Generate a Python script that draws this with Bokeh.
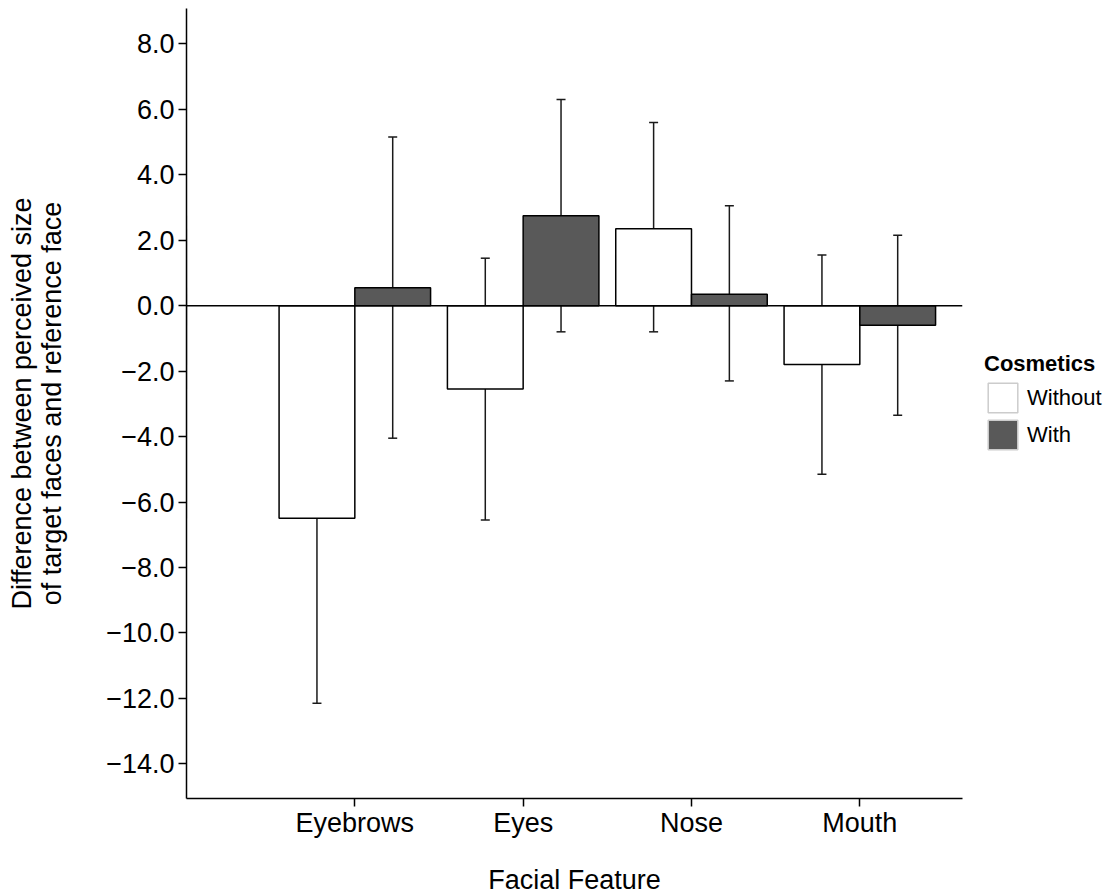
from bokeh.plotting import figure
from bokeh.models import (ColumnDataSource, Whisker, TeeHead, Legend, LegendItem,
                          FixedTicker, Span, Range1d)
from bokeh.embed import file_html
from bokeh.resources import INLINE

# ---- data ----
features = ["Eyebrows", "Eyes", "Nose", "Mouth"]
groups = ["Without", "With"]
without_mean = [-6.5, -2.55, 2.35, -1.8]
without_upper = [-0.8, 1.45, 5.6, 1.55]
without_lower = [-12.15, -6.55, -0.8, -5.15]
with_mean = [0.55, 2.75, 0.35, -0.6]
with_upper = [5.15, 6.3, 3.05, 2.15]
with_lower = [-4.05, -0.8, -2.3, -3.35]
y_ticks = [-14, -12, -10, -8, -6, -4, -2, 0, 2, 4, 6, 8]
y_tick_labels = ["\u221214.0", "\u221212.0", "\u221210.0", "\u22128.0", "\u22126.0",
                 "\u22124.0", "\u22122.0", "0.0", "2.0", "4.0", "6.0", "8.0"]
x_positions = [1, 2, 3, 4]

FONT = "Liberation Sans"
DARK = "#595959"
dodge = 0.225
bar_w = 0.45

p = figure(width=1105, height=888, output_backend="svg", toolbar_location=None,
           x_range=Range1d(0, 4.61), y_range=Range1d(-15.06, 9.08),
           min_border_left=186, min_border_right=143, min_border_top=8,
           min_border_bottom=90)
p.frame_width = 776
p.frame_height = 790
p.grid.visible = False
p.outline_line_color = None
p.background_fill_color = "white"
# off-screen range used only so legend keys can have their own outline colour
p.extra_x_ranges = {"legend_only": Range1d(1000, 1001)}

src_wo = ColumnDataSource(dict(
    x=[x - dodge for x in x_positions], top=without_mean,
    upper=without_upper, lower=without_lower))
src_w = ColumnDataSource(dict(
    x=[x + dodge for x in x_positions], top=with_mean,
    upper=with_upper, lower=with_lower))

p.vbar(x="x", top="top", bottom=0, width=bar_w, source=src_wo,
       fill_color="white", line_color="black", line_width=1.5)
p.vbar(x="x", top="top", bottom=0, width=bar_w, source=src_w,
       fill_color=DARK, line_color="black", line_width=1.5)

p.add_layout(Span(location=0, dimension="width", line_color="black", line_width=1.5))

for src in (src_wo, src_w):
    wk = Whisker(base="x", upper="upper", lower="lower", source=src,
                 line_color="#1a1a1a", line_width=1.5,
                 upper_head=TeeHead(size=9, line_color="#1a1a1a", line_width=1.5),
                 lower_head=TeeHead(size=9, line_color="#1a1a1a", line_width=1.5))
    p.add_layout(wk)

# legend key renderers (same data, mapped to an off-screen range)
r_leg_wo = p.vbar(x="x", top="top", bottom=0, width=bar_w, source=src_wo,
                  x_range_name="legend_only",
                  fill_color="white", line_color="#cccccc", line_width=1.5)
r_leg_w = p.vbar(x="x", top="top", bottom=0, width=bar_w, source=src_w,
                 x_range_name="legend_only",
                 fill_color=DARK, line_color="#cccccc", line_width=1.5)
legend = Legend(items=[LegendItem(label=groups[0], renderers=[r_leg_wo]),
                       LegendItem(label=groups[1], renderers=[r_leg_w])],
                location=(22, 345), title="Cosmetics",
                title_text_font=FONT, title_text_font_size="22px",
                title_text_font_style="bold", title_text_color="black",
                title_standoff=2,
                label_text_font=FONT, label_text_font_size="22px",
                label_text_color="black", label_standoff=6,
                glyph_width=37, glyph_height=37, spacing=0,
                padding=0, margin=0, border_line_color=None,
                background_fill_alpha=0)
p.add_layout(legend, "right")

# axes
p.xaxis.ticker = FixedTicker(ticks=x_positions)
p.xaxis.major_label_overrides = {x: f for x, f in zip(x_positions, features)}
p.yaxis.ticker = FixedTicker(ticks=y_ticks)
p.yaxis.major_label_overrides = {t: l for t, l in zip(y_ticks, y_tick_labels)}

for ax in (p.xaxis[0], p.yaxis[0]):
    ax.axis_line_color = "black"
    ax.axis_line_width = 1.5
    ax.major_tick_line_color = "black"
    ax.major_tick_line_width = 1.5
    ax.major_tick_out = 8
    ax.major_tick_in = 0
    ax.minor_tick_line_color = None
    ax.major_label_text_font = FONT
    ax.major_label_text_font_size = "27px"
    ax.major_label_text_color = "black"
    ax.axis_label_text_font = FONT
    ax.axis_label_text_font_size = "27px"
    ax.axis_label_text_font_style = "normal"
    ax.axis_label_text_color = "black"
    ax.axis_label_text_line_height = 1.0

p.xaxis.axis_label = "Facial Feature"
p.xaxis.major_label_standoff = 1
p.xaxis.axis_label_standoff = 24
p.yaxis.axis_label = "Difference between perceived size\nof target faces and reference face"
p.yaxis.major_label_standoff = 4
p.yaxis.axis_label_standoff = 36

open("out.html", "w").write(file_html(p, INLINE))
